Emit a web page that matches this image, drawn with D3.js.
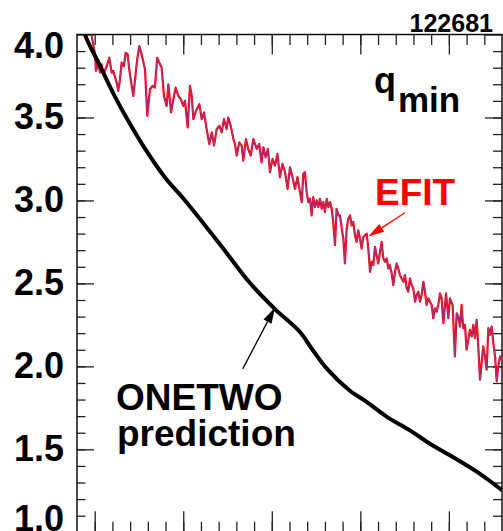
<!DOCTYPE html>
<html>
<head>
<meta charset="utf-8">
<script src="https://cdn.jsdelivr.net/npm/d3@7"></script>
<style>
  body { margin: 0; background: #fff; }
  svg { display: block; }
  text { font-family: "Liberation Sans", Arial, sans-serif; font-weight: bold; }
</style>
</head>
<body>
<div class="chart"></div>
<script>
// ONETWO prediction (time s, q_min)
var onetwoT = [0.43, 0.445, 0.530, 0.615, 0.699, 0.784, 0.897, 1.010, 1.207, 1.377, 1.518, 1.659,
  1.727, 1.812, 1.941, 2.026, 2.150, 2.280, 2.393, 2.506, 2.659, 2.800]
var onetwoQ = [4.09, 4.0, 3.811, 3.624, 3.462, 3.312, 3.138, 3.000, 2.736, 2.502, 2.345, 2.207,
  2.105, 1.985, 1.853, 1.793, 1.696, 1.614, 1.534, 1.464, 1.364, 1.254]

// EFIT reconstruction (time s, q_min)
var efitT = [0.483, 0.502, 0.507, 0.520, 0.530, 0.539, 0.549, 0.568, 0.582, 0.596, 0.605, 0.624,
  0.633, 0.643, 0.652, 0.665, 0.675, 0.686, 0.695, 0.709, 0.718, 0.727, 0.740, 0.752, 0.765,
  0.784, 0.797, 0.812, 0.827, 0.840, 0.853, 0.865, 0.878, 0.891, 0.906, 0.916, 0.931, 0.944,
  0.957, 0.972, 0.986, 1.000, 1.010, 1.025, 1.038, 1.048, 1.057, 1.076, 1.091, 1.104, 1.117,
  1.132, 1.147, 1.161, 1.174, 1.189, 1.204, 1.217, 1.230, 1.245, 1.254, 1.268, 1.283, 1.292,
  1.302, 1.316, 1.330, 1.339, 1.354, 1.367, 1.381, 1.396, 1.415, 1.429, 1.442, 1.453, 1.465,
  1.478, 1.490, 1.504, 1.518, 1.532, 1.546, 1.560, 1.575, 1.589, 1.603, 1.617, 1.631, 1.645,
  1.659, 1.669, 1.678, 1.687, 1.697, 1.706, 1.716, 1.725, 1.734, 1.744, 1.753, 1.763, 1.772,
  1.782, 1.791, 1.800, 1.810, 1.819, 1.829, 1.838, 1.847, 1.857, 1.866, 1.876, 1.885, 1.895,
  1.904, 1.913, 1.923, 1.932, 1.942, 1.951, 1.960, 1.970, 1.979, 1.988, 1.998, 2.007, 2.017,
  2.026, 2.036, 2.045, 2.055, 2.064, 2.073, 2.083, 2.092, 2.101, 2.111, 2.120, 2.130, 2.139,
  2.149, 2.158, 2.167, 2.177, 2.186, 2.196, 2.205, 2.214, 2.224, 2.233, 2.243, 2.252, 2.262,
  2.271, 2.280, 2.290, 2.299, 2.309, 2.318, 2.327, 2.337, 2.346, 2.356, 2.365, 2.374, 2.384,
  2.393, 2.403, 2.412, 2.421, 2.431, 2.440, 2.450, 2.459, 2.469, 2.484, 2.497, 2.506, 2.521,
  2.534, 2.544, 2.553, 2.563, 2.572, 2.581, 2.591, 2.600, 2.610, 2.619, 2.629, 2.638, 2.647,
  2.657, 2.666, 2.676, 2.685, 2.694, 2.704, 2.713, 2.723, 2.732, 2.742, 2.751, 2.761, 2.770,
  2.779, 2.789, 2.798, 2.811]
var efitQ = [3.99, 3.88, 3.78, 3.83, 3.77, 3.82, 3.76, 3.81, 3.86, 3.77, 3.78, 3.71,
  3.66, 3.73, 3.83, 3.81, 3.89, 3.88, 3.79, 3.69, 3.63, 3.72, 3.85, 3.93, 3.88,
  3.79, 3.51, 3.67, 3.69, 3.68, 3.86, 3.83, 3.80, 3.63, 3.57, 3.70, 3.53, 3.61,
  3.68, 3.63, 3.61, 3.57, 3.60, 3.44, 3.69, 3.63, 3.49, 3.55, 3.58, 3.49, 3.53,
  3.43, 3.34, 3.41, 3.33, 3.43, 3.45, 3.41, 3.49, 3.43, 3.50, 3.45, 3.37, 3.34,
  3.27, 3.35, 3.33, 3.24, 3.37, 3.31, 3.27, 3.37, 3.31, 3.34, 3.23, 3.32, 3.26,
  3.31, 3.17, 3.25, 3.21, 3.28, 3.14, 3.22, 3.17, 3.07, 3.20, 3.14, 3.07, 3.14,
  3.05, 2.99, 3.16, 3.17, 3.05, 2.99, 3.01, 2.91, 3.02, 2.96, 3.00, 2.96, 3.01,
  2.95, 2.99, 2.93, 3.01, 2.96, 2.99, 2.95, 2.87, 2.73, 2.95, 2.91, 2.91, 2.83,
  2.77, 2.62, 2.83, 2.89, 2.91, 2.85, 2.87, 2.79, 2.75, 2.82, 2.77, 2.71, 2.78,
  2.79, 2.80, 2.71, 2.57, 2.63, 2.61, 2.72, 2.67, 2.62, 2.69, 2.75, 2.65, 2.63,
  2.65, 2.59, 2.61, 2.56, 2.49, 2.57, 2.62, 2.59, 2.55, 2.53, 2.51, 2.55, 2.47,
  2.45, 2.53, 2.49, 2.47, 2.39, 2.43, 2.45, 2.39, 2.43, 2.51, 2.45, 2.37, 2.41,
  2.39, 2.37, 2.29, 2.35, 2.33, 2.37, 2.44, 2.41, 2.26, 2.44, 2.29, 2.41, 2.37,
  2.06, 2.32, 2.30, 2.24, 2.37, 2.23, 2.25, 2.10, 2.16, 2.22, 2.18, 2.25, 2.17,
  2.28, 2.12, 1.92, 2.02, 2.12, 2.06, 1.98, 2.23, 2.19, 2.24, 2.14, 2.06, 1.91,
  2.00, 2.06, 2.04, 2.08]

var yMajor = [1.0, 1.5, 2.0, 2.5, 3.0, 3.5, 4.0]
var yMinor = d3.range(11, 40).map(d => d / 10)
var xMajorBottom = [0.5, 1.0, 1.5, 2.0, 2.5]
var xMajorTop = [1.0, 1.5, 2.0, 2.5]
var xMinor = d3.range(5, 28).map(d => d / 10)

var width = 503, height = 531
var plotL = 77, plotR = 502, plotT = 34.5, plotB = 532.3

var x = d3.scaleLinear().domain([0.4, 2.8]).range([plotL, plotR])
var y = d3.scaleLinear().domain([1, 4]).range([plotB, plotT])

var svg = d3.select(".chart").append("svg")
  .attr("width", width)
  .attr("height", height)

svg.append("defs").append("clipPath").attr("id", "plot")
  .append("rect")
  .attr("x", plotL).attr("y", plotT)
  .attr("width", plotR - plotL).attr("height", plotB - plotT)

function styleAxis(g) {
  g.select(".domain").remove()
  g.selectAll("line").attr("stroke", "#222").attr("stroke-width", 1.3)
}

// minor ticks
svg.append("g").attr("transform", `translate(${plotL},0)`)
  .call(d3.axisLeft(y).tickValues(yMinor).tickSize(-8.5).tickFormat(""))
  .call(styleAxis)
svg.append("g").attr("transform", `translate(${plotR},0)`)
  .call(d3.axisRight(y).tickValues(yMinor).tickSize(-9).tickFormat(""))
  .call(styleAxis)
svg.append("g").attr("transform", `translate(0,${plotT})`)
  .call(d3.axisTop(x).tickValues(xMinor).tickSize(-10.5).tickFormat(""))
  .call(styleAxis)
svg.append("g").attr("transform", `translate(0,${plotB})`)
  .call(d3.axisBottom(x).tickValues(xMinor).tickSize(-10.5).tickFormat(""))
  .call(styleAxis)

// major ticks
var yAxis = svg.append("g").attr("transform", `translate(${plotL},0)`)
  .call(d3.axisLeft(y).tickValues(yMajor).tickSize(-17).tickPadding(13).tickFormat(d3.format(".1f")))
  .call(styleAxis)
yAxis.selectAll("text")
  .attr("fill", "#000")
  .style("font-size", "36px")
  .attr("transform", d => d === 4 ? "translate(0,11.5)" : d === 1 ? "translate(0,-13.5)" : null)

svg.append("g").attr("transform", `translate(${plotR},0)`)
  .call(d3.axisRight(y).tickValues(yMajor).tickSize(-17).tickFormat(""))
  .call(styleAxis)
svg.append("g").attr("transform", `translate(0,${plotT})`)
  .call(d3.axisTop(x).tickValues(xMajorTop).tickSize(-20).tickFormat(""))
  .call(styleAxis)
svg.append("g").attr("transform", `translate(0,${plotB})`)
  .call(d3.axisBottom(x).tickValues(xMajorBottom).tickSize(-21).tickFormat(""))
  .call(styleAxis)

// frame
svg.append("rect")
  .attr("x", plotL).attr("y", plotT)
  .attr("width", plotR - plotL).attr("height", plotB - plotT)
  .attr("fill", "none")
  .attr("stroke", "#111")
  .attr("stroke-width", 1.5)

var plot = svg.append("g").attr("clip-path", "url(#plot)")

var efitLine = d3.line()
  .x((d, i) => x(efitT[i]))
  .y(d => y(d))

plot.append("path")
  .datum(efitQ)
  .attr("d", efitLine)
  .attr("fill", "none")
  .attr("stroke", "#ff0000")
  .attr("stroke-width", 2.2)
  .attr("stroke-linejoin", "round")

plot.append("path")
  .datum(efitQ)
  .attr("d", efitLine)
  .attr("fill", "none")
  .attr("stroke", "#9a3a9a")
  .attr("stroke-width", 0.9)
  .attr("stroke-linejoin", "round")

var onetwoLine = d3.line()
  .x((d, i) => x(onetwoT[i]))
  .y(d => y(d))
  .curve(d3.curveCatmullRom.alpha(0.5))

plot.append("path")
  .datum(onetwoQ)
  .attr("d", onetwoLine)
  .attr("fill", "none")
  .attr("stroke", "#000")
  .attr("stroke-width", 4)

// arrows
function arrow(x0, y0, x1, y1, color) {
  var ax0 = x(x0), ay0 = y(y0), ax1 = x(x1), ay1 = y(y1)
  var ang = Math.atan2(ay1 - ay0, ax1 - ax0)
  var len = 16, half = 4.5
  var bx = ax1 - len * Math.cos(ang), by = ay1 - len * Math.sin(ang)
  svg.append("line")
    .attr("x1", ax0).attr("y1", ay0).attr("x2", bx).attr("y2", by)
    .attr("stroke", color).attr("stroke-width", 1.3)
  svg.append("path")
    .attr("d", `M${ax1},${ay1}L${bx - half * Math.sin(ang)},${by + half * Math.cos(ang)}L${bx + half * Math.sin(ang)},${by - half * Math.cos(ang)}Z`)
    .attr("fill", color)
}
arrow(1.336, 1.985, 1.518, 2.355, "#000")
arrow(2.252, 2.926, 2.045, 2.782, "#ff0000")

// labels
svg.append("text").attr("x", 493).attr("y", 31.5)
  .attr("text-anchor", "end").style("font-size", "25px").text("122681")

svg.append("text").attr("x", 374).attr("y", 93).style("font-size", "36px").text("q")
svg.append("text").attr("x", 398).attr("y", 111.5).style("font-size", "35px").text("min")

svg.append("text").attr("x", 375).attr("y", 205)
  .attr("fill", "#ff0000").style("font-size", "37px").text("EFIT")

svg.append("text").attr("x", 116).attr("y", 410).style("font-size", "37px").text("ONETWO")
svg.append("text").attr("x", 117).attr("y", 446).style("font-size", "37px").text("prediction")
</script>
</body>
</html>
